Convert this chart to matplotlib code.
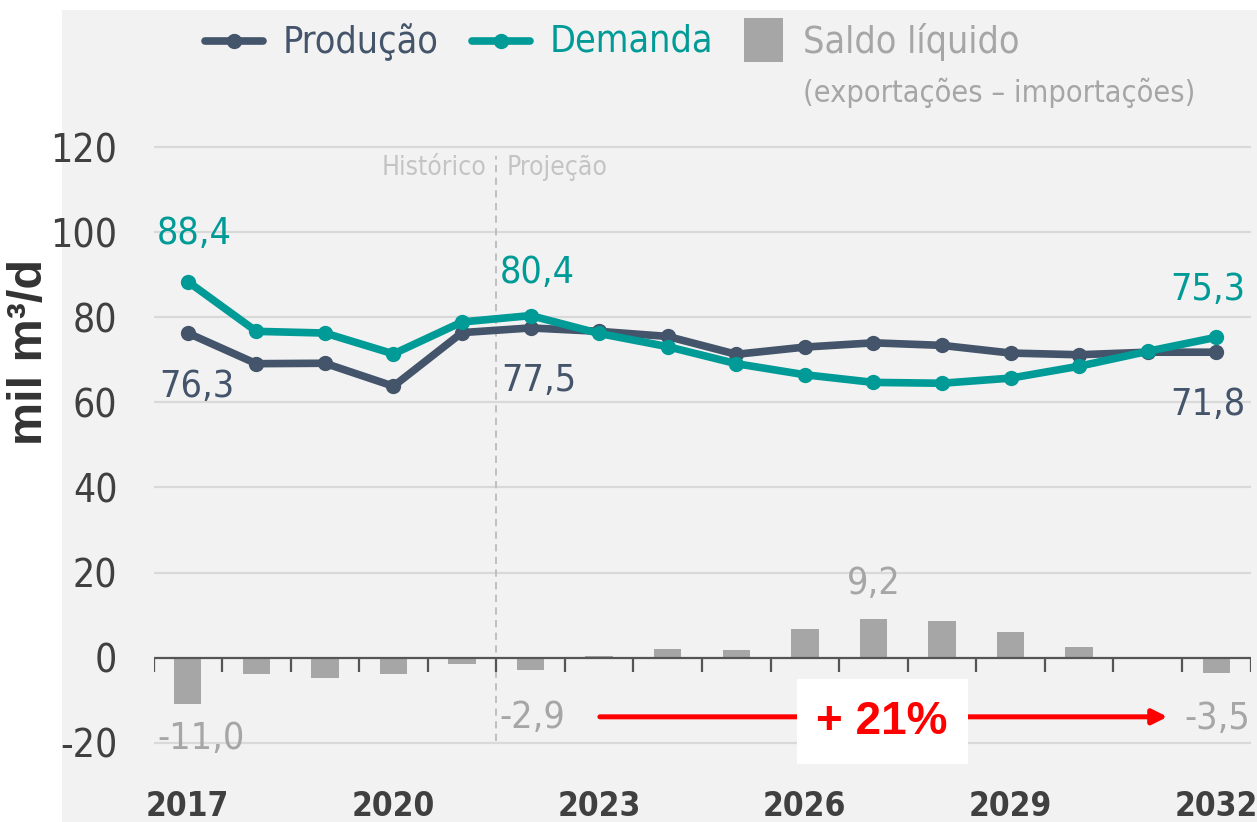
import numpy as np
import matplotlib
matplotlib.use("Agg")
import matplotlib.pyplot as plt
from matplotlib import font_manager
from matplotlib.lines import Line2D
from matplotlib.patches import Rectangle

# data (mil m3/d)
years = np.arange(2017, 2033)
producao = [76.3, 69.1, 69.2, 63.8, 76.4, 77.5, 76.7, 75.5, 71.3, 73.0, 74.0, 73.4, 71.6, 71.2, 71.8, 71.8]
demanda = [88.4, 76.7, 76.3, 71.4, 78.9, 80.4, 76.2, 73.1, 69.1, 66.5, 64.7, 64.5, 65.7, 68.5, 72.0, 75.3]
saldo = [-11.0, -3.9, -4.7, -3.9, -1.6, -2.9, 0.5, 2.0, 1.7, 6.7, 9.2, 8.7, 6.0, 2.4, 0.0, -3.5]
yticks = [-20, 0, 20, 40, 60, 80, 100, 120]
xticks = [2017, 2020, 2023, 2026, 2029, 2032]

c_prod = "#44546a"
c_dem = "#009b97"
c_bar = "#a6a6a6"
c_grid = "#d9d9d9"
c_txt = "#404040"

# look for a condensed face, the original uses a narrow DIN-like font
narrow_file = None
narrow_bold_file = None
for f in font_manager.fontManager.ttflist:
    fn = f.fname.lower()
    if ("condensed" in fn or "narrow" in fn) and "italic" not in fn and "oblique" not in fn:
        if f.weight in ("bold", 700) and narrow_bold_file is None:
            narrow_bold_file = f.fname
        elif f.weight in ("normal", "regular", 400) and narrow_file is None:
            narrow_file = f.fname
if narrow_file:
    fp = lambda size, bold=False: font_manager.FontProperties(
        fname=(narrow_bold_file if bold and narrow_bold_file else narrow_file), size=size)
    k = 1.0
else:
    fp = lambda size, bold=False: font_manager.FontProperties(
        family="Roboto", weight="bold" if bold else "normal", size=size)
    k = 0.88

W, H = 1257, 822
fig = plt.figure(figsize=(W / 100, H / 100), dpi=100)

def fx(px):
    return px / W

def fy(py):
    return 1 - py / H

# light gray panel
fig.patches.append(Rectangle((fx(62), 0), 1 - fx(62), fy(10), transform=fig.transFigure,
                             facecolor="#f2f2f2", edgecolor="none", zorder=-5))

ax = fig.add_axes([fx(153.5), 1 - 759.8 / H, fx(1250.5) - fx(153.5), (759.8 - 138.6) / H])
ax.set_facecolor("none")
ax.set_xlim(2016.5, 2032.5)
ax.set_ylim(-24, 122)
for s in ax.spines.values():
    s.set_visible(False)

for v in yticks:
    if v != 0:
        ax.axhline(v, color=c_grid, lw=1.6, zorder=0)

ax.bar(years, saldo, width=0.4, color=c_bar, zorder=2)
ax.axhline(0, color="#555555", lw=1.6, zorder=3)
ax.vlines(np.arange(2016.5, 2033.5, 1), -3.3, 0, color="#555555", lw=1.6, zorder=3)

ax.plot([2021.5, 2021.5], [-19.5, 118], color="#bbbbbb", lw=1.3, ls=(0, (4, 3)), zorder=1)
ax.text(2021.35, 115, "Histórico", color="#c4c4c4", fontproperties=fp(19 * k), ha="right", va="center")
ax.text(2021.65, 115, "Projeção", color="#c4c4c4", fontproperties=fp(19 * k), ha="left", va="center")

ax.plot(years, producao, color=c_prod, lw=5.5, marker="o", ms=10, zorder=4, solid_capstyle="round")
ax.plot(years, demanda, color=c_dem, lw=5.5, marker="o", ms=10, zorder=5, solid_capstyle="round")

ax.set_yticks(yticks)
ax.set_yticklabels([str(v) for v in yticks])
ax.set_xticks(xticks)
ax.set_xticklabels([str(v) for v in xticks])
ax.tick_params(length=0, colors=c_txt)
ax.tick_params(axis="y", pad=26)
ax.tick_params(axis="x", pad=22)
for lab in ax.get_yticklabels():
    lab.set_fontproperties(fp(28 * k))
for lab in ax.get_xticklabels():
    lab.set_fontproperties(fp(24 * k, bold=True))


def lbl(x, y, s, color, dx, dy, ha):
    ax.annotate(s, xy=(x, y), xytext=(dx, dy), textcoords="offset pixels", ha=ha, va="center",
                color=color, fontproperties=fp(27 * k), zorder=6)


i0, i5, i15, i10 = 0, 5, 15, 10
lbl(years[i0], demanda[i0], "88,4", c_dem, -31, 48, "left")
lbl(years[i0], producao[i0], "76,3", c_prod, -29, -54, "left")
lbl(years[i5], demanda[i5], "80,4", c_dem, -31, 43, "left")
lbl(years[i5], producao[i5], "77,5", c_prod, -29, -53, "left")
lbl(years[i15], demanda[i15], "75,3", c_dem, 29, 47, "right")
lbl(years[i15], producao[i15], "71,8", c_prod, 29, -53, "right")
lbl(years[i10], saldo[i10], "9,2", c_bar, 0, 35, "center")
lbl(years[i0], saldo[i0], "-11,0", c_bar, -30, -35, "left")
lbl(years[i5], saldo[i5], "-2,9", c_bar, -31, -48, "left")
lbl(years[i15], saldo[i15], "-3,5", c_bar, 34, -46, "right")

# red growth arrow with white box
ax.annotate("", xy=(2031.33, -13.9), xytext=(2022.97, -13.9),
            arrowprops=dict(arrowstyle="-|>", color="red", lw=3.6, mutation_scale=22), zorder=7)
fig.patches.append(Rectangle((fx(797), fy(764)), fx(968) - fx(797), fy(679) - fy(764),
                             transform=fig.transFigure, facecolor="white", edgecolor="none", zorder=8))
fig.text(fx(882), fy(722), "+ 21%", color="red", fontsize=33, fontweight="bold",
         family="Liberation Sans", ha="center", va="center", zorder=9)

# y label
fig.text(fx(30), fy(352), "mil m³/d", rotation=90, fontsize=35, fontweight="bold",
         family="Liberation Sans", color="#333333", ha="center", va="center")

# legend
fig.add_artist(Line2D([fx(205), fx(263)], [fy(41), fy(41)], color=c_prod, lw=5.5,
                      solid_capstyle="round"))
fig.add_artist(Line2D([fx(234)], [fy(41)], color=c_prod, marker="o", ms=10))
fig.text(fx(283), fy(42), "Produção", color=c_prod, fontproperties=fp(27 * k), va="center")
fig.add_artist(Line2D([fx(472), fx(530)], [fy(41), fy(41)], color=c_dem, lw=5.5,
                      solid_capstyle="round"))
fig.add_artist(Line2D([fx(501)], [fy(41)], color=c_dem, marker="o", ms=10))
fig.text(fx(550), fy(42), "Demanda", color=c_dem, fontproperties=fp(27 * k), va="center")
fig.patches.append(Rectangle((fx(744), fy(62)), fx(783) - fx(744), fy(18) - fy(62),
                             transform=fig.transFigure, facecolor=c_bar, edgecolor="none"))
fig.text(fx(803), fy(42), "Saldo líquido", color=c_bar, fontproperties=fp(27 * k), va="center")
fig.text(fx(803), fy(93), "(exportações – importações)", color=c_bar, fontproperties=fp(22 * k),
         va="center")

fig.savefig("out.png", dpi=100)
